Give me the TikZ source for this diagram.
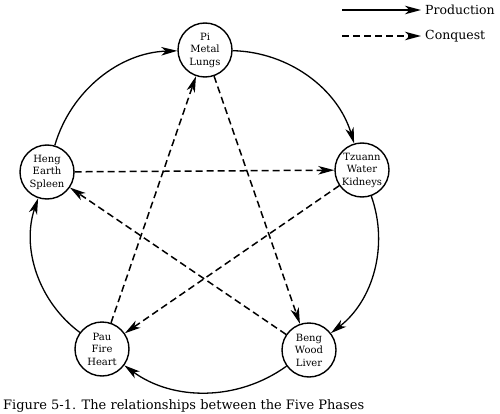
\documentclass[tikz,border=0pt]{standalone}
\usepackage{fontspec}
\setmainfont{DejaVu Serif}
\usetikzlibrary{arrows.meta}
\begin{document}
\begin{tikzpicture}[x=1pt,y=1pt,
  phase/.style={circle,draw,line width=1.4pt,minimum size=54pt,inner sep=0pt,
    align=center,font=\fontsize{10}{12.5}\selectfont},
  prod/.style={line width=1.3pt,-{Stealth[length=16pt,width=8.5pt,inset=4.5pt]}},
  conq/.style={line width=1.5pt,dash pattern=on 7pt off 4pt,-{Stealth[length=16pt,width=8.5pt,inset=4.5pt]}},
  lbl/.style={anchor=west,inner sep=0pt,font=\fontsize{12.5}{14}\selectfont}]
\useasboundingbox (0,0) rectangle (500,413);
\node[phase] (pi) at (205,363) {Pi\\Metal\\Lungs};
\node[phase] (tz) at (362,243) {Tzuann\\Water\\Kidneys};
\node[phase] (be) at (309,63) {Beng\\Wood\\Liver};
\node[phase] (pa) at (102,64) {Pau\\Fire\\Heart};
\node[phase] (he) at (47,241) {Heng\\Earth\\Spleen};
% production cycle
\draw[prod] (pi) to[bend left=36,looseness=0.95] (tz);
\draw[prod] (tz) to[bend left=36,looseness=0.95] (be);
\draw[prod] (be) to[bend left=36,looseness=0.95] (pa);
\draw[prod] (pa) to[bend left=36,looseness=0.95] (he);
\draw[prod] (he) to[bend left=36,looseness=0.95] (pi);
% conquest cycle
\draw[conq] (pa) -- (pi);
\draw[conq] (pi) -- (be);
\draw[conq] (be) -- (he);
\draw[conq] (he) -- (tz);
\draw[conq] (tz) -- (pa);
% legend
\coordinate (l1a) at (342,403);
\coordinate (l1b) at (421,403);
\coordinate (l2a) at (342,377);
\coordinate (l2b) at (421,377);
\draw[prod] (l1a) -- (l1b);
\draw[conq] (l2a) -- (l2b);
\node[lbl] (tp) at (425,403) {Production};
\node[lbl] (tc) at (425,377) {Conquest};
\node[anchor=base west,inner sep=0pt,font=\fontsize{13}{15}\selectfont] (cap) at (3,4)
  {Figure 5-1. The relationships between the Five Phases};
\end{tikzpicture}
\end{document}
